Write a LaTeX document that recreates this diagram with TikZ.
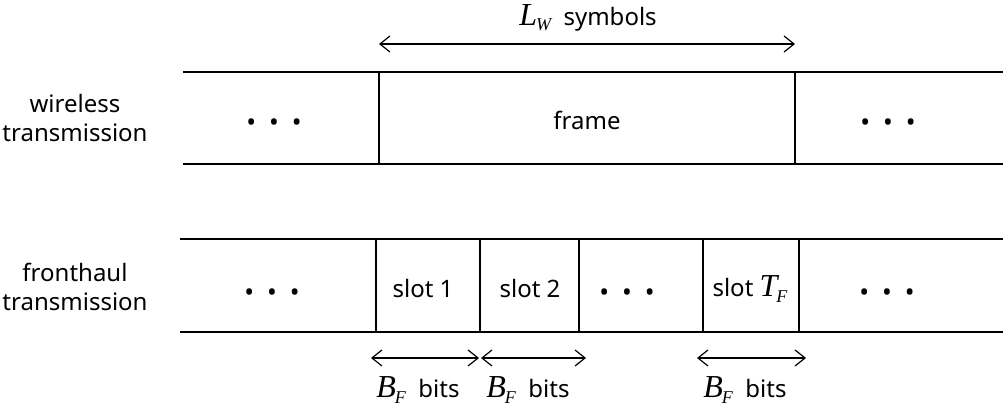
\documentclass[tikz,border=0pt]{standalone}
\usepackage{fontspec}
\setmainfont{Noto Sans}
\newfontfamily\tms{Liberation Serif}
\usetikzlibrary{arrows.meta}
\newcommand\mydots{\textbullet\hspace{6.5pt}\textbullet\hspace{6.5pt}\textbullet}
\newcommand\mv[2]{{\tms\itshape\fontsize{16}{16}\selectfont #1}\kern-0.5pt\raisebox{-0.4ex}{\tms\itshape\fontsize{9}{9}\selectfont #2}}
\begin{document}
\begin{tikzpicture}[x=0.5pt,y=-0.5pt,
  band/.style={line width=1pt},
  span/.style={line width=0.6pt,{Straight Barb[length=5pt,width=8pt]}-{Straight Barb[length=5pt,width=8pt]}},
  lbl/.style={font=\fontsize{12}{14.5}\selectfont,align=center,inner sep=0pt},
  dts/.style={font=\fontsize{13}{14.5}\selectfont,inner sep=0pt}]
\useasboundingbox (0,0) rectangle (1003,406);
% top band
\coordinate (t1) at (183,72); \coordinate (t2) at (1003,72);
\coordinate (b1) at (183,164); \coordinate (b2) at (1003,164);
\draw[band] (t1) -- (t2) (b1) -- (b2);
\draw[band] (379,72) coordinate (va) -- (379,164);
\draw[band] (795,72) coordinate (vb) -- (795,164);
\coordinate (aL) at (379,44); \coordinate (aR) at (795,44);
\draw[span] (aL) -- (aR);
\node[lbl] (lw) at (588,18) {\mv{L}{W}\ \ symbols};
\node[lbl] (wl) at (75,118) {wireless\\transmission};
\node[dts] (d1) at (274,125) {\mydots};
\node[lbl] (fr) at (587,120) {frame};
\node[dts] (d2) at (888,125) {\mydots};
% bottom band
\coordinate (u1) at (180,239); \coordinate (u2) at (1003,239);
\coordinate (w1) at (180,332); \coordinate (w2) at (1003,332);
\draw[band] (u1) -- (u2) (w1) -- (w2);
\foreach \x in {376,480,579,703,799}{\draw[band] (\x,239) -- (\x,332);}
\node[lbl] (fh) at (75,287) {fronthaul\\transmission};
\node[dts] (d3) at (272,295) {\mydots};
\node[lbl] (s1) at (423,289) {slot 1};
\node[lbl] (s2) at (530,289) {slot 2};
\node[dts] (d4) at (627,295) {\mydots};
\node[lbl] (sT) at (750,289) {slot \mv{T}{F}};
\node[dts] (d5) at (887,295) {\mydots};
% bit arrows
\coordinate (p1) at (371,358); \coordinate (p2) at (479,358);
\coordinate (p3) at (481,358); \coordinate (p4) at (586,358);
\coordinate (p5) at (697,358); \coordinate (p6) at (806,358);
\draw[span] (p1) -- (p2);
\draw[span] (p3) -- (p4);
\draw[span] (p5) -- (p6);
\node[lbl] (bf1) at (418,390) {\mv{B}{F}\ \ bits};
\node[lbl] (bf2) at (528,390) {\mv{B}{F}\ \ bits};
\node[lbl] (bf3) at (745,390) {\mv{B}{F}\ \ bits};
\end{tikzpicture}
\end{document}
